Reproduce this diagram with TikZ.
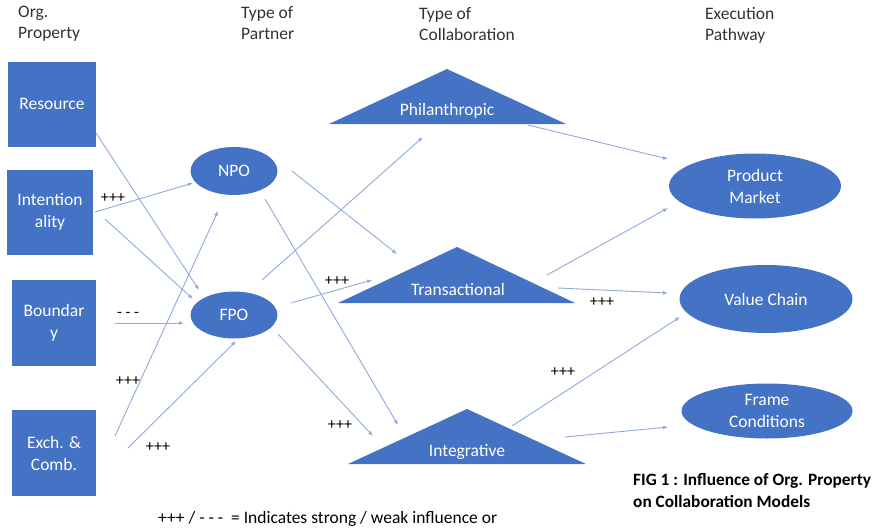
\documentclass[tikz,border=0pt]{standalone}
\usepackage{fontspec}
\setmainfont{Carlito}
\usetikzlibrary{calc,shapes.geometric,arrows.meta}
\definecolor{boxblue}{RGB}{68,114,196}
\definecolor{linkblue}{RGB}{143,170,220}
\definecolor{headgray}{RGB}{50,50,50}
\tikzset{
  propbox/.style={fill=boxblue, draw=none, minimum width=86pt, minimum height=86pt,
    text=white, align=center, font=\fontsize{17.5}{22}\selectfont, inner sep=1pt},
  partner/.style={ellipse, fill=boxblue, draw=none, minimum width=87pt, minimum height=47pt,
    text=white, font=\fontsize{17.5}{20}\selectfont, inner sep=0pt},
  pathway/.style={ellipse, fill=boxblue, draw=none, text=white, align=center,
    font=\fontsize{17.5}{22}\selectfont, inner sep=0pt},
  trilabel/.style={text=white, font=\fontsize{17.5}{20}\selectfont, inner sep=0pt},
  trishape/.style={fill=boxblue, draw=none},
  header/.style={anchor=north west, align=left, text=headgray, inner sep=0pt,
    font=\fontsize{17.5}{21}\selectfont},
  infl/.style={font=\fontsize{16}{18}\selectfont, text=black, inner sep=0pt},
  link/.style={draw=linkblue, line width=0.9pt, -{Latex[length=5pt,width=4pt]}},
}
\begin{document}
\begin{tikzpicture}[x=1pt,y=-1pt]
\useasboundingbox (0,0) rectangle (876,530);

% column headers
\node[header] (h1) at (18,6) {Org.\\Property};
\node[header] (h2) at (241,6) {Type of\\Partner};
\node[header] (h3) at (419,7) {Type of\\Collaboration};
\node[header] (h4) at (705,7) {Execution\\Pathway};

% organisational properties
\node[propbox, minimum width=88pt, minimum height=85pt] (res) at (52,104) {Resource};
\node[propbox, minimum height=85pt] (int) at (50,212) {Intention\\ality};
\node[propbox, minimum width=84pt] (bnd) at (54,323) {Boundar\\y};
\node[propbox, minimum width=84pt] (exc) at (54,453) {Exch. \&\\Comb.};

% partner types
\node[partner, minimum height=48pt] (npo) at (234,171) {NPO};
\node[partner] (fpo) at (234,315) {FPO};

% collaboration types (triangles with labels)
\fill[trishape] (447,69) -- (566,124) -- (329,124) -- cycle;
\node[trilabel] (phil) at (447,111) {Philanthropic};
\fill[trishape] (457,247) -- (575,303) -- (338,303) -- cycle;
\node[trilabel] (trans) at (458,289) {Transactional};
\fill[trishape] (467,409) -- (586,464) -- (348,464) -- cycle;
\node[trilabel] (integ) at (467,452) {Integrative};

% execution pathways
\node[pathway, minimum width=172pt, minimum height=65pt] (pm) at (755,186) {Product\\Market};
\node[pathway, minimum width=173pt, minimum height=68pt] (vc) at (766,299) {Value Chain};
\node[pathway, minimum width=171pt, minimum height=55pt] (fc) at (767,411) {Frame\\Conditions};

% property -> partner
\draw[link] ($(res)+(44,29)$) -- ($(fpo)+(-35,-25)$);
\draw[link] ($(int)+(45,0)$) -- ($(npo)+(-41,12)$);
\draw[link] ($(int)+(55,7)$) -- ($(fpo)+(-41,-16)$);
\draw[link] ($(bnd)+(61,0)$) -- ($(fpo)+(-50,8)$);
\draw[link] ($(exc)+(61,-17)$) -- ($(npo)+(-16,40)$);
\draw[link] ($(exc)+(74,-5)$) -- ($(fpo)+(2,26)$);

% partner -> collaboration
\draw[link] ($(fpo)+(28,-35)$) -- ($(phil)+(-24,26)$);
\draw[link] ($(npo)+(58,0)$) -- ($(trans)+(-61,-35)$);
\draw[link] ($(npo)+(31,28)$) -- ($(integ)+(-69,-27)$);
\draw[link] ($(fpo)+(57,-12)$) -- ($(trans)+(-86,-9)$);
\draw[link] ($(fpo)+(44,19)$) -- ($(integ)+(-94,-16)$);

% collaboration -> pathway
\draw[link] ($(phil)+(81,14)$) -- ($(pm)+(-87,-27)$);
\draw[link] ($(trans)+(89,-14)$) -- ($(pm)+(-87,22)$);
\draw[link] ($(trans)+(100,-1)$) -- ($(vc)+(-98,-6)$);
\draw[link] ($(integ)+(45,-26)$) -- ($(vc)+(-86,18)$);
\draw[link] ($(integ)+(98,-15)$) -- ($(fc)+(-99,16)$);

% influence markers
\node[infl] (i1) at (113,198) {+++};
\node[infl] (i2) at (128,315) {- - -};
\node[infl] (i3) at (128,381) {+++};
\node[infl] (i4) at (158,447) {+++};
\node[infl] (i5) at (337,281) {+++};
\node[infl] (i6) at (340,425) {+++};
\node[infl] (i7) at (602,302) {+++};
\node[infl] (i8) at (563,372) {+++};

% caption and legend
\node[anchor=west, align=left, inner sep=0pt, font=\bfseries\fontsize{17.3}{22}\selectfont] (cap) at (633,491)
  {FIG 1 : Influence of Org. Property\\on Collaboration Models};
\node[anchor=west, inner sep=0pt, font=\fontsize{17.5}{20}\selectfont] (leg) at (158,519)
  {+++ / - - -\ \ = Indicates strong / weak influence or};
\end{tikzpicture}
\end{document}
